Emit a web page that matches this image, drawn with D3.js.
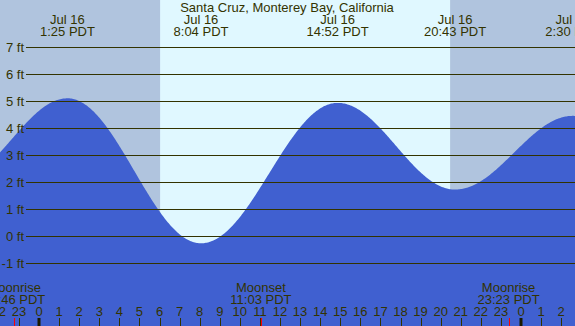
<!DOCTYPE html>
<html><head><meta charset="utf-8">
<script src="https://cdn.jsdelivr.net/npm/d3@7"></script>
<style>html,body{margin:0;padding:0;background:#b0c4de;}svg{display:block;}</style>
</head><body>
<svg id="c" width="575" height="326"></svg>
<script>
const title = "Santa Cruz, Monterey Bay, California";
// tide extremes: hours since Jul 16 00:00 PDT, height ft
const extremeHours = [-4.1, 1.417, 8.067, 14.867, 20.717, 26.58, 33.0];
const extremeFeet  = [2.1, 5.1, -0.27, 4.93, 1.72, 4.45, -0.1];
const topLabelHours = [1.417, 8.067, 14.867, 20.717, 26.58];
const topLabelDates = ["Jul 16", "Jul 16", "Jul 16", "Jul 16", "Jul 17"];
const topLabelTimes = ["1:25 PDT", "8:04 PDT", "14:52 PDT", "20:43 PDT", "2:30 PDT"];
const dayStart = 6.03, dayEnd = 20.47;
const moonHours = [-1.233, 11.05, 23.383];
const moonEvents = ["Moonrise", "Moonset", "Moonrise"];
const moonTimes = ["22:46 PDT", "11:03 PDT", "23:23 PDT"];
const feetTicks = [-1, 0, 1, 2, 3, 4, 5, 6, 7];
const hourTicks = d3.range(-2, 27);

const W = 575, H = 326;
const x = d3.scaleLinear().domain([0, 24]).range([39, 521]);
const y = d3.scaleLinear().domain([0, 7]).range([236, 47]);
const svg = d3.select("#c");
const font = "Liberation Sans, Arial, sans-serif";
const ink = "#333300";

// sky
svg.append("rect").attr("x", 0).attr("y", 0).attr("width", W).attr("height", H).attr("fill", "#b0c4de");
svg.append("rect").attr("x", x(dayStart)).attr("y", 0).attr("width", x(dayEnd) - x(dayStart)).attr("height", H).attr("fill", "#e0f8ff");

// tide curve (cosine between extremes)
function level(h) {
  for (let i = 0; i < extremeHours.length - 1; i++) {
    const a = extremeHours[i], b = extremeHours[i + 1];
    if (h >= a && h <= b) {
      const f = (1 - Math.cos(Math.PI * (h - a) / (b - a))) / 2;
      return extremeFeet[i] + (extremeFeet[i + 1] - extremeFeet[i]) * f;
    }
  }
  return extremeFeet[0];
}
const h0 = x.invert(0), h1 = x.invert(W);
const samples = d3.range(h0, h1 + 0.05, 0.05);
const area = d3.area().x(d => x(d)).y0(H).y1(d => y(level(d)));
svg.append("path").datum(samples).attr("d", area).attr("fill", "#4060d0");

// gridlines + labels
feetTicks.forEach(v => {
  svg.append("line").attr("x1", 26).attr("x2", W).attr("y1", y(v) + 0.5).attr("y2", y(v) + 0.5)
    .attr("stroke", ink).attr("stroke-width", 1);
  svg.append("text").attr("x", 24).attr("y", y(v) + 4.5).attr("text-anchor", "end")
    .attr("font-family", font).attr("font-size", 13).attr("fill", ink).text(v + " ft");
});

// title
svg.append("text").attr("x", 287).attr("y", 12).attr("text-anchor", "middle")
  .attr("font-family", font).attr("font-size", 13).attr("fill", ink).text(title);

// top labels
topLabelHours.forEach((h, i) => {
  svg.append("text").attr("x", x(h)).attr("y", 24).attr("text-anchor", "middle")
    .attr("font-family", font).attr("font-size", 13).attr("fill", ink).text(topLabelDates[i]);
  svg.append("text").attr("x", x(h)).attr("y", 36).attr("text-anchor", "middle")
    .attr("font-family", font).attr("font-size", 13).attr("fill", ink).text(topLabelTimes[i]);
});

// moon labels
moonHours.forEach((h, i) => {
  svg.append("text").attr("x", x(h)).attr("y", 292).attr("text-anchor", "middle")
    .attr("font-family", font).attr("font-size", 13).attr("fill", ink).text(moonEvents[i]);
  svg.append("text").attr("x", x(h)).attr("y", 304).attr("text-anchor", "middle")
    .attr("font-family", font).attr("font-size", 13).attr("fill", ink).text(moonTimes[i]);
  svg.append("line").attr("x1", Math.round(x(h)) + 0.5).attr("x2", Math.round(x(h)) + 0.5)
    .attr("y1", 318).attr("y2", H).attr("stroke", "#ff0000").attr("stroke-width", 1);
});

// hour ticks
hourTicks.forEach(h => {
  const hh = ((h % 24) + 24) % 24;
  svg.append("text").attr("x", x(h)).attr("y", 316).attr("text-anchor", "middle")
    .attr("font-family", font).attr("font-size", 13).attr("fill", ink).text(hh);
  const mid = hh === 0;
  svg.append("line").attr("x1", Math.round(x(h)) + (mid ? 0 : 0.5)).attr("x2", Math.round(x(h)) + (mid ? 0 : 0.5))
    .attr("y1", 318).attr("y2", H).attr("stroke", mid ? "#1a1a00" : ink).attr("stroke-width", mid ? 3 : 1);
});
</script>
</body></html>
